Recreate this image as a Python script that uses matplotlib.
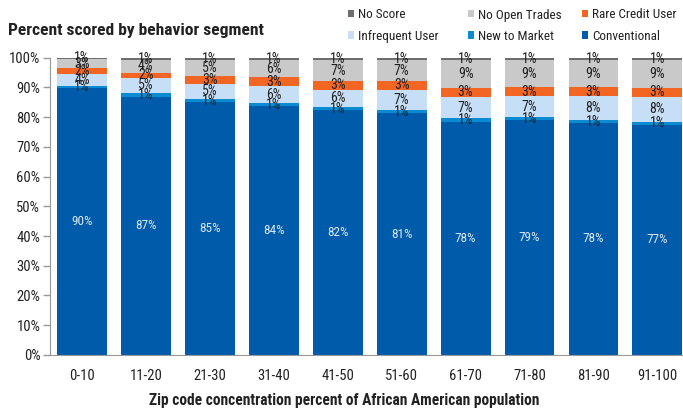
import matplotlib
matplotlib.use("Agg")
import matplotlib.pyplot as plt
from matplotlib import font_manager
import numpy as np

# pick a condensed sans font if one is installed
ttf = font_manager.fontManager.ttflist
names = {f.name for f in ttf}
fam, stretch = 'Liberation Sans', 'normal'
for cand in ['Liberation Sans Narrow', 'Roboto Condensed', 'Open Sans Condensed',
             'Noto Sans Condensed', 'DejaVu Sans Condensed']:
    if cand in names:
        fam = cand
        break
else:
    for cand in ['Roboto', 'Noto Sans', 'Open Sans', 'DejaVu Sans']:
        if any(f.name == cand and str(f.stretch) in ('condensed', 'semi-condensed', '87.5', '75', '62.5')
               for f in ttf):
            fam, stretch = cand, 'condensed'
            break
plt.rcParams['font.family'] = [fam, 'DejaVu Sans']
plt.rcParams['font.stretch'] = stretch

categories = ['0-10', '11-20', '21-30', '31-40', '41-50', '51-60', '61-70', '71-80', '81-90', '91-100']
conventional = [89.6, 86.9, 84.9, 83.6, 82.2, 81.2, 78.4, 79.0, 78.0, 77.4]
new_to_market = [0.9, 1.2, 1.2, 1.0, 1.1, 1.1, 1.2, 0.9, 0.9, 1.0]
infrequent = [4.0, 5.0, 5.0, 5.9, 5.9, 6.9, 7.2, 7.1, 8.1, 8.4]
rare = [1.9, 1.8, 2.8, 2.8, 2.8, 2.8, 3.0, 3.0, 3.0, 3.0]
no_open = [3.0, 4.3, 5.3, 6.0, 7.2, 7.2, 9.4, 9.2, 9.2, 9.4]
no_score = [0.6, 0.8, 0.8, 0.7, 0.8, 0.8, 0.8, 0.8, 0.8, 0.8]

series = [
    ('Conventional', conventional, '#005BAA', '#DCE6F2'),
    ('New to Market', new_to_market, '#0C8BD3', '#222222'),
    ('Infrequent User', infrequent, '#C6DEF6', '#222222'),
    ('Rare Credit User', rare, '#F26522', '#222222'),
    ('No Open Trades', no_open, '#C9C9C9', '#222222'),
    ('No Score', no_score, '#6E6E6E', '#222222'),
]

fig = plt.figure(figsize=(6.83, 4.11), dpi=100)
ax = fig.add_axes([0.0732, 0.1363, 0.9268, 0.7237])
x = np.arange(len(categories))
bottom = np.zeros(len(categories))
handles = {}
for name, vals, col, tcol in series:
    vals = np.array(vals)
    b = ax.bar(x, vals, bottom=bottom, width=0.78, color=col, edgecolor='none')
    handles[name] = b
    for xi, v, bt in zip(x, vals, bottom):
        fs = 9.5 if name == 'Conventional' else 10
        ax.text(xi, bt + v / 2, f'{round(v):.0f}%', ha='center', va='center',
                fontsize=fs, color=tcol)
    bottom += vals

ax.set_xlim(-0.5, 9.4)
ax.set_ylim(0, 100)
ax.set_yticks(np.arange(0, 101, 10))
ax.set_yticklabels([f'{v}%' for v in range(0, 101, 10)], fontsize=10.5, color='#222222')
ax.set_xticks(x)
ax.set_xticklabels(categories, fontsize=10.5, color='#222222')
ax.tick_params(axis='x', length=0, pad=10)
ax.tick_params(axis='y', length=5, color='#999999', width=1, pad=2)
for s in ['top', 'right']:
    ax.spines[s].set_visible(False)
ax.spines['left'].set_color('#999999')
ax.spines['bottom'].set_color('#999999')

fig.text(344.5 / 683, 1 - 400 / 411,
         'Zip code concentration percent of African American population',
         fontsize=11.2, fontweight='bold', color='#222222', ha='center', va='center')

fig.text(8 / 683, 1 - 30.5 / 411, 'Percent scored by behavior segment', fontsize=12.6,
         fontweight='bold', ha='left', va='center', color='#222222')

columns = [['No Score', 'Infrequent User'],
           ['No Open Trades', 'New to Market'],
           ['Rare Credit User', 'Conventional']]
col_x = [348, 468, 582]
for cx, labels in zip(col_x, columns):
    leg = fig.legend([handles[n] for n in labels], labels, ncol=1, loc='upper left',
                     bbox_to_anchor=(cx / 683, 1 - 8.5 / 411), frameon=False, fontsize=9.5,
                     handlelength=0.45, handleheight=0.45, handletextpad=0.3,
                     labelspacing=0.62, borderaxespad=0, borderpad=0)
    for t in leg.get_texts():
        t.set_color('#222222')

fig.savefig('out.png', dpi=100)
